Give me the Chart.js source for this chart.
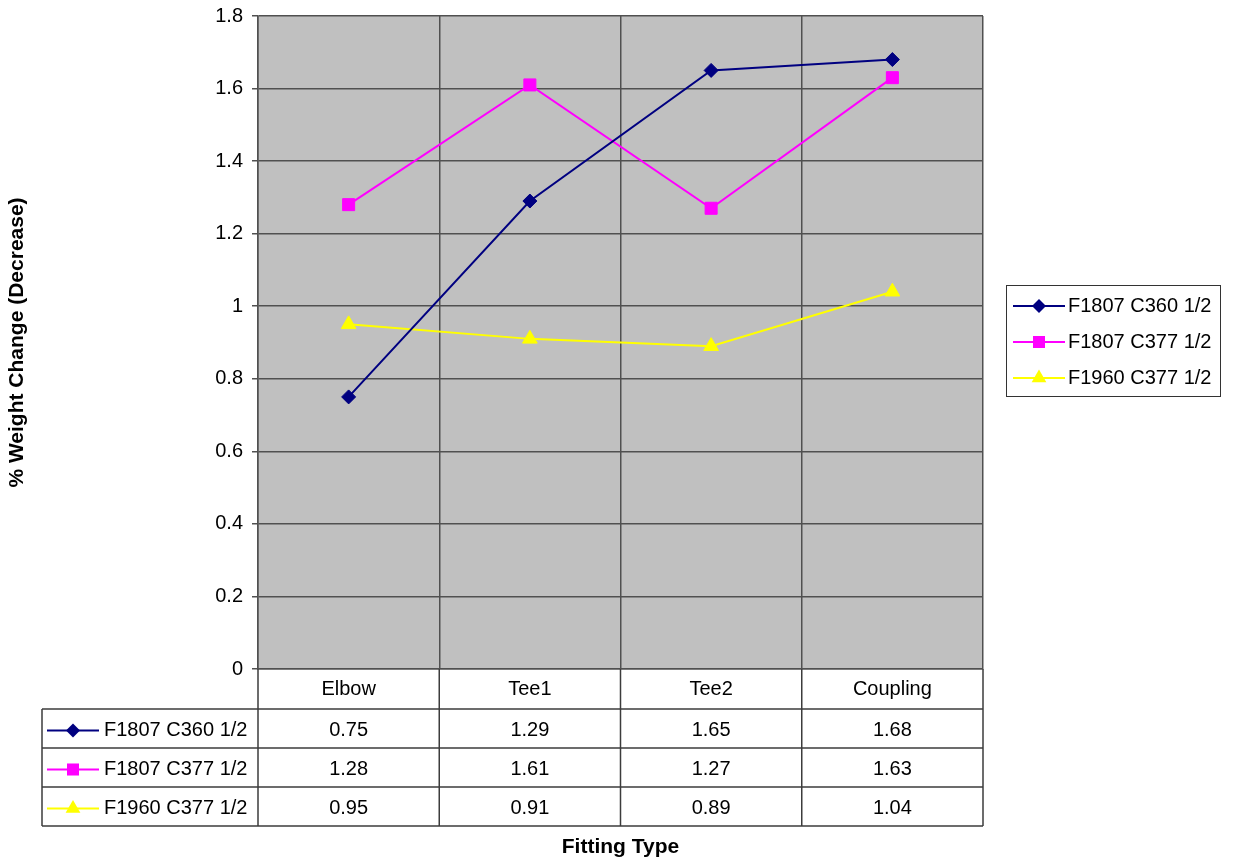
<!DOCTYPE html>
<html>
<head>
<meta charset="utf-8">
<title>% Weight Change by Fitting Type</title>
<script src="https://cdn.jsdelivr.net/npm/chart.js@4/dist/chart.umd.min.js"></script>
<style>
  html, body { margin: 0; padding: 0; background: #ffffff; }
  canvas { display: block; }
</style>
</head>
<body>
<canvas id="chart" width="1233" height="865"></canvas>
<script>
// Fitting categories and measured weight change (%) per alloy / size
const categories = ['Elbow', 'Tee1', 'Tee2', 'Coupling'];
const seriesNames = ['F1807 C360 1/2', 'F1807 C377 1/2', 'F1960 C377 1/2'];
const f1807C360 = [0.75, 1.29, 1.65, 1.68];
const f1807C377 = [1.28, 1.61, 1.27, 1.63];
const f1960C377 = [0.95, 0.91, 0.89, 1.04];
const yMin = 0, yMax = 1.8, yStep = 0.2;

const FONT = "'Liberation Sans', Arial, sans-serif";
const FONT_SIZE = 20;
const TITLE_SIZE = 21;
const GRID = '#505050';
const TABLE_LINE = '#3c3c3c';

const styles = [
  { color: '#000080', shape: 'rectRot', radius: 7 },
  { color: '#FF00FF', shape: 'rect', radius: 8.5 },
  { color: '#FFFF00', shape: 'triangle', radius: 8.5 }
];
const seriesValues = [f1807C360, f1807C377, f1960C377];

const datasets = seriesNames.map((name, i) => ({
  label: name,
  data: seriesValues[i],
  borderColor: styles[i].color,
  backgroundColor: styles[i].color,
  borderWidth: 2,
  pointStyle: styles[i].shape,
  pointRadius: styles[i].radius,
  pointHoverRadius: styles[i].radius,
  pointBackgroundColor: styles[i].color,
  pointBorderColor: styles[i].color,
  pointBorderWidth: 1,
  tension: 0,
  fill: false
}));

// Small marker painter used by the legend and the data table key column
function marker(ctx, shape, x, y, r, color) {
  ctx.save();
  ctx.fillStyle = color;
  ctx.beginPath();
  if (shape === 'rectRot') {
    ctx.moveTo(x, y - r); ctx.lineTo(x + r, y); ctx.lineTo(x, y + r); ctx.lineTo(x - r, y);
  } else if (shape === 'rect') {
    const s = r * Math.SQRT1_2;
    ctx.rect(x - s, y - s, 2 * s, 2 * s);
  } else {
    ctx.moveTo(x, y - r);
    ctx.lineTo(x + r * Math.sin(2 * Math.PI / 3), y - r * Math.cos(2 * Math.PI / 3));
    ctx.lineTo(x + r * Math.sin(4 * Math.PI / 3), y - r * Math.cos(4 * Math.PI / 3));
  }
  ctx.closePath();
  ctx.fill();
  ctx.restore();
}

function keyEntry(ctx, i, x0, x1, y) {
  ctx.save();
  ctx.strokeStyle = styles[i].color;
  ctx.lineWidth = 2;
  ctx.beginPath();
  ctx.moveTo(x0, y); ctx.lineTo(x1, y);
  ctx.stroke();
  ctx.restore();
  marker(ctx, styles[i].shape, (x0 + x1) / 2, y, styles[i].radius, styles[i].color);
}

const plotBackground = {
  id: 'plotBackground',
  beforeDraw(chart) {
    const { ctx, chartArea: a } = chart;
    ctx.save();
    ctx.fillStyle = '#C0C0C0';
    ctx.fillRect(a.left, a.top, a.right - a.left, a.bottom - a.top);
    ctx.restore();
  }
};

// Data table under the plot plus the legend box on the right
const tableAndLegend = {
  id: 'tableAndLegend',
  afterDraw(chart) {
    const { ctx, chartArea: a, scales: { x } } = chart;
    const half = (x.getPixelForValue(1) - x.getPixelForValue(0)) / 2;
    const edges = categories.map((c, i) => x.getPixelForValue(i) - half);
    edges.push(x.getPixelForValue(categories.length - 1) + half);

    const tableLeft = 42;
    const headTop = a.bottom;
    const headBottom = headTop + 40;
    const rowH = 39;
    const rowTops = seriesNames.map((s, i) => headBottom + i * rowH);
    const tableBottom = headBottom + seriesNames.length * rowH;

    ctx.save();
    ctx.strokeStyle = TABLE_LINE;
    ctx.lineWidth = 1.5;
    ctx.beginPath();
    // horizontal rules
    ctx.moveTo(tableLeft, headBottom); ctx.lineTo(edges[edges.length - 1], headBottom);
    rowTops.forEach((t) => {
      const yy = t + rowH;
      ctx.moveTo(tableLeft, yy); ctx.lineTo(edges[edges.length - 1], yy);
    });
    // vertical rules
    ctx.moveTo(tableLeft, headBottom); ctx.lineTo(tableLeft, tableBottom);
    edges.forEach(ex => { ctx.moveTo(ex, headTop); ctx.lineTo(ex, tableBottom); });
    ctx.stroke();

    ctx.fillStyle = '#000';
    ctx.font = FONT_SIZE + 'px ' + FONT;
    ctx.textBaseline = 'middle';
    seriesNames.forEach((name, i) => {
      const cy = rowTops[i] + rowH / 2 + 2;
      keyEntry(ctx, i, 47, 99, cy);
      ctx.fillStyle = '#000';
      ctx.textAlign = 'left';
      ctx.fillText(name, 104, cy);
      ctx.textAlign = 'center';
      seriesValues[i].forEach((v, j) => {
        ctx.fillText(v.toFixed(2), x.getPixelForValue(j), cy);
      });
    });

    // legend box
    const lx = 1006, ly = 285, lw = 214, lh = 111;
    ctx.fillStyle = '#fff';
    ctx.fillRect(lx, ly, lw, lh);
    ctx.strokeStyle = '#333';
    ctx.lineWidth = 1;
    ctx.strokeRect(lx + 0.5, ly + 0.5, lw, lh);
    seriesNames.forEach((name, i) => {
      const cy = ly + 21 + i * 36;
      keyEntry(ctx, i, 1013, 1065, cy);
      ctx.fillStyle = '#000';
      ctx.textAlign = 'left';
      ctx.fillText(name, 1068, cy);
    });
    ctx.restore();
  }
};

new Chart(document.getElementById('chart'), {
  type: 'line',
  data: { labels: categories, datasets },
  plugins: [plotBackground, tableAndLegend],
  options: {
    responsive: false,
    animation: false,
    devicePixelRatio: 1,
    layout: { padding: { top: 16, right: 250, left: 0, bottom: 0 } },
    plugins: { legend: { display: false }, tooltip: { enabled: false } },
    scales: {
      x: {
        offset: true,
        afterFit(scale) { scale.height = 196; scale.paddingLeft = 0; scale.paddingRight = 0; },
        grid: { offset: true, color: GRID, lineWidth: 1.5, drawTicks: false },
        border: { color: GRID, width: 1.5 },
        ticks: { color: '#000', padding: 8, font: { family: FONT, size: FONT_SIZE } },
        title: {
          display: true, text: 'Fitting Type', color: '#000',
          font: { family: FONT, size: TITLE_SIZE, weight: 'bold' },
          padding: { top: 0, bottom: 5 }
        }
      },
      y: {
        min: yMin, max: yMax,
        afterFit(scale) { scale.width = 258; scale.paddingTop = 0; scale.paddingBottom = 0; },
        grid: { color: GRID, lineWidth: 1.5, tickLength: 6 },
        border: { color: GRID, width: 1.5 },
        ticks: {
          stepSize: yStep, color: '#000', padding: 9,
          font: { family: FONT, size: FONT_SIZE },
          callback: v => String(+Number(v).toFixed(1))
        },
        title: {
          display: true, text: '% Weight Change (Decrease)', color: '#000',
          font: { family: FONT, size: TITLE_SIZE, weight: 'bold' },
          padding: { top: 5, bottom: 0 }
        }
      }
    }
  }
});
</script>
</body>
</html>
